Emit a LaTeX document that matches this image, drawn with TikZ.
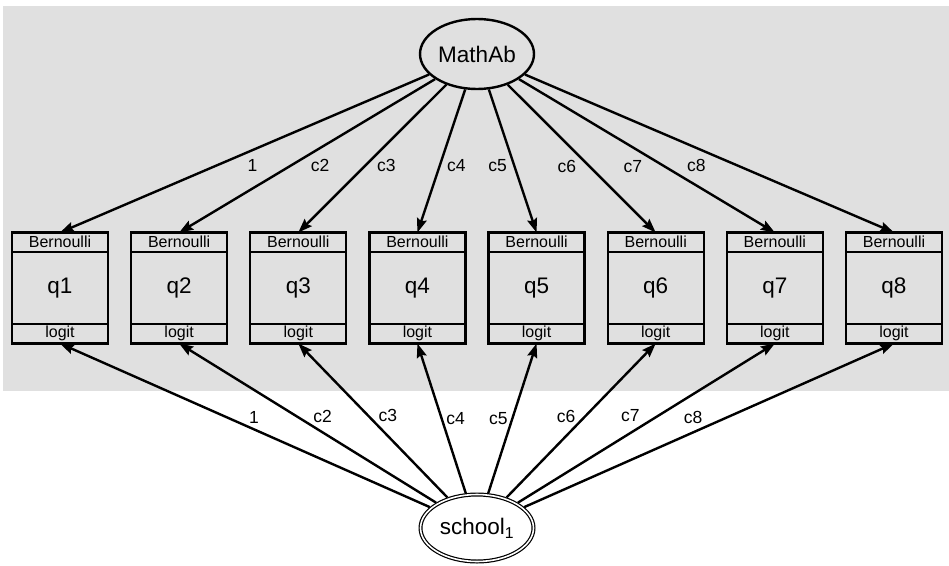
\documentclass[tikz,border=0pt]{standalone}
\usepackage{fontspec}
\setmainfont{Liberation Sans}
\usepackage{xcolor}
\usepackage{tikz}
\usetikzlibrary{positioning,arrows.meta,shapes.geometric}
\definecolor{panelgray}{RGB}{224,224,224}

\begin{document}
\begin{tikzpicture}[
	x=1pt, y=-1pt,
	>={Stealth[length=14pt,width=10pt,inset=2pt]},
	line width=2.4pt,
	node distance=23.14pt,
	latent/.style={
		ellipse,
		draw,
		inner sep=0pt,
		minimum width=114pt,
		minimum height=70pt,
		font=\fontsize{22.5}{26}\selectfont
	},
	obsv/.style={
		rectangle,
		draw,
		inner sep=0pt,
		outer sep=0pt,
		minimum width=96pt,
		minimum height=72pt,
		font=\fontsize{22.5}{26}\selectfont
	},
	famstrip/.style={
		rectangle,
		draw,
		inner sep=0pt,
		outer sep=0pt,
		minimum width=96pt,
		minimum height=19.5pt,
		font=\fontsize{16}{18}\selectfont
	},
	coef/.style={midway, inner sep=0pt, font=\fontsize{17.5}{20}\selectfont}
	]
	
	\useasboundingbox (0,0) rectangle (949,565);
	\fill[panelgray] (3,6) rectangle (949,390.5);
	
	% latent variables
	\node[latent] (math) at (477,54) {MathAb};
	\node[latent, double, double distance=1.6pt, line width=1.2pt, minimum width=113pt, minimum height=67pt, outer sep=2pt] (school) at (477,528) {school\textsubscript{1}};
	
	% observed items
	\node[obsv] (q1) at (60,288) {q1};
	\node[obsv] (q2) [right=of q1] {q2};
	\node[obsv] (q3) [right=of q2] {q3};
	\node[obsv] (q4) [right=of q3] {q4};
	\node[obsv] (q5) [right=of q4] {q5};
	\node[obsv] (q6) [right=of q5] {q6};
	\node[obsv] (q7) [right=of q6] {q7};
	\node[obsv] (q8) [right=of q7] {q8};
	
	\node[famstrip] (b1) [above=0pt of q1] {Bernoulli};
	\node[famstrip] (b2) [above=0pt of q2] {Bernoulli};
	\node[famstrip] (b3) [above=0pt of q3] {Bernoulli};
	\node[famstrip] (b4) [above=0pt of q4] {Bernoulli};
	\node[famstrip] (b5) [above=0pt of q5] {Bernoulli};
	\node[famstrip] (b6) [above=0pt of q6] {Bernoulli};
	\node[famstrip] (b7) [above=0pt of q7] {Bernoulli};
	\node[famstrip] (b8) [above=0pt of q8] {Bernoulli};
	
	\node[famstrip] (l1) [below=0pt of q1] {logit};
	\node[famstrip] (l2) [below=0pt of q2] {logit};
	\node[famstrip] (l3) [below=0pt of q3] {logit};
	\node[famstrip] (l4) [below=0pt of q4] {logit};
	\node[famstrip] (l5) [below=0pt of q5] {logit};
	\node[famstrip] (l6) [below=0pt of q6] {logit};
	\node[famstrip] (l7) [below=0pt of q7] {logit};
	\node[famstrip] (l8) [below=0pt of q8] {logit};
	
	% loadings on MathAb
	\draw[->] (math) -- node[coef, shift={(8,12)}]{1} (b1.north);
	\draw[->] (math) -- node[coef, shift={(13,10)}]{c2} (b2.north);
	\draw[->] (math) -- node[coef, shift={(14,7)}]{c3} (b3.north);
	\draw[->] (math) -- node[coef, shift={(15,5)}]{c4} (b4.north);
	\draw[->] (math) -- node[coef, shift={(-15,5)}]{c5} (b5.north);
	\draw[->] (math) -- node[coef, shift={(-15,8)}]{c6} (b6.north);
	\draw[->] (math) -- node[coef, shift={(-14,11)}]{c7} (b7.north);
	\draw[->] (math) -- node[coef, shift={(-13,12)}]{c8} (b8.north);
	
	% loadings on school
	\draw[->] (school) -- node[coef, shift={(9,-8)}]{1} (l1.south);
	\draw[->] (school) -- node[coef, shift={(15,-7)}]{c2} (l2.south);
	\draw[->] (school) -- node[coef, shift={(15,-5)}]{c3} (l3.south);
	\draw[->] (school) -- node[coef, shift={(14,0)}]{c4} (l4.south);
	\draw[->] (school) -- node[coef, shift={(-14,0)}]{c5} (l5.south);
	\draw[->] (school) -- node[coef, shift={(-15,-4)}]{c6} (l6.south);
	\draw[->] (school) -- node[coef, shift={(-16,-8)}]{c7} (l7.south);
	\draw[->] (school) -- node[coef, shift={(-16,-8)}]{c8} (l8.south);
\end{tikzpicture}
\end{document}
